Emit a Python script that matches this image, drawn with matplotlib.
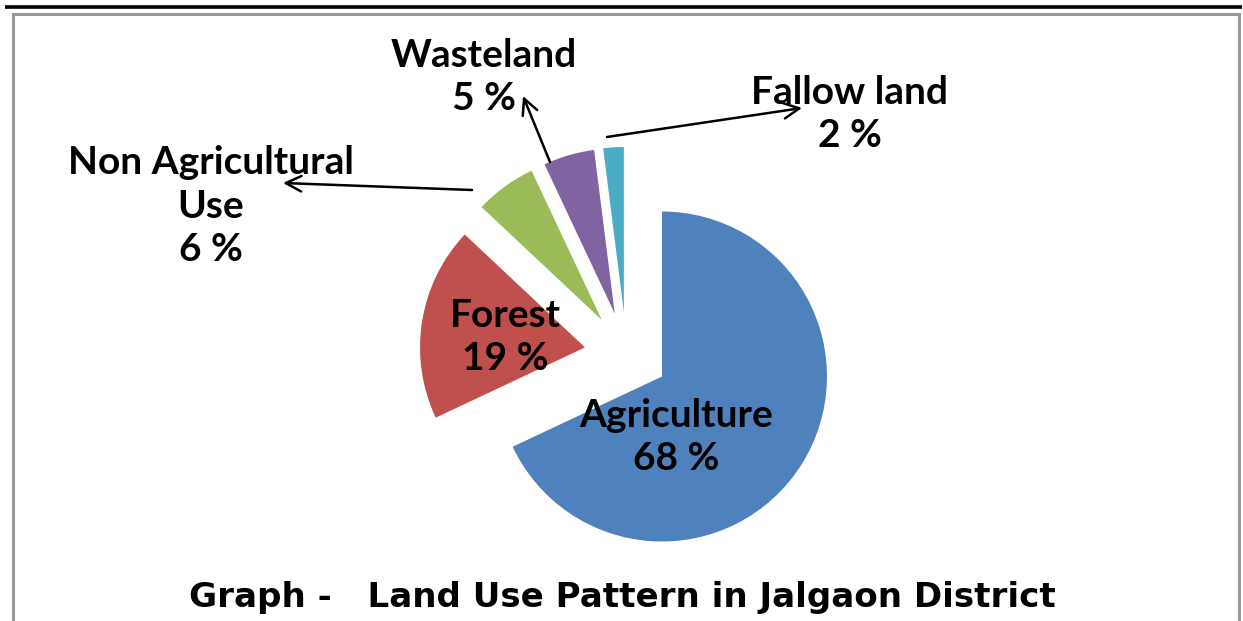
import matplotlib.pyplot as plt
from matplotlib.patches import Rectangle

# land use shares (%)
labels = ['Agriculture', 'Forest', 'Non Agricultural\nUse', 'Wasteland', 'Fallow land']
values = [68, 19, 6, 5, 2]
colors = ['#4F81BD', '#C0504D', '#9BBB59', '#8064A2', '#4BACC6']

W, H = 1243, 621


def fy(y):
    # image row -> data y
    return H - y


fig = plt.figure(figsize=(W / 100, H / 100), dpi=100)
ax = fig.add_axes([0, 0, 1, 1])

# frame
ax.add_patch(Rectangle((13.5, fy(700)), 1239.5 - 13.5, 700 - 14, fill=False,
                       edgecolor='#999999', linewidth=2.2))
ax.plot([5, 1242], [fy(6.7), fy(6.7)], color='black', linewidth=2.6,
        solid_capstyle='butt')

# explode is in data units here (pixels)
ax.pie(values, colors=colors, startangle=90, counterclock=False,
       center=(626.5, fy(354)), radius=165, explode=[42] * 5,
       wedgeprops=dict(linewidth=0), frame=True)
ax.set_xlim(0, W)
ax.set_ylim(0, H)
ax.axis('off')

font = dict(family=['Lato', 'DejaVu Sans'], fontweight='bold', fontsize=28,
            ha='center', va='center', linespacing=1.3)

# label positions (image coords)
label_pos = [(676, 437), (505, 337), (211, 206), (484, 77), (850, 114)]
for name, v, (x, y) in zip(labels, values, label_pos):
    ax.text(x, fy(y), '%s\n%d %%' % (name, v), **font)

# leader arrows: (start, tip)
arrows = [((472, 190), (283, 183)),
          ((550, 162), (523, 96)),
          ((607, 137), (802, 108))]
for (x0, y0), (x1, y1) in arrows:
    ax.annotate('', xy=(x1, fy(y1)), xytext=(x0, fy(y0)),
                arrowprops=dict(arrowstyle='->', color='black', lw=1.8,
                                mutation_scale=28, shrinkA=0, shrinkB=0))

ax.text(622, fy(607), 'Graph -   Land Use Pattern in Jalgaon District',
        family='DejaVu Sans', fontweight='bold', fontsize=24.6,
        ha='center', va='baseline')

fig.savefig('out.png', dpi=100)
